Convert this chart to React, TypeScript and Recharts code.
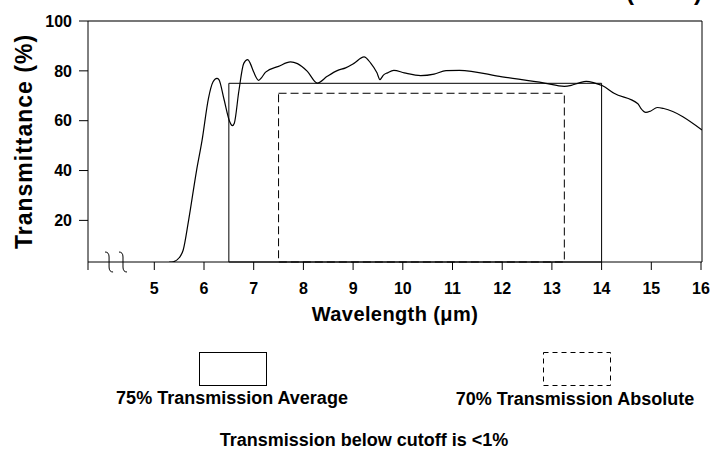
import React from 'react';
import { LineChart, Line, XAxis, YAxis, ReferenceArea, ReferenceLine } from 'recharts';

// transmittance curve
const WAVELENGTH = [
  5.3, 5.38, 5.5, 5.58, 5.69, 5.85, 5.96, 6.09, 6.18, 6.26, 6.3, 6.4, 6.52, 6.57, 6.61, 6.7,
  6.8, 6.88, 6.93, 7.0, 7.1, 7.16, 7.24, 7.5, 7.74, 7.88, 8.08, 8.28, 8.48, 8.68, 8.85, 9.01,
  9.22, 9.35, 9.48, 9.54, 9.61, 9.69, 9.82, 10.03, 10.36, 10.63, 10.87, 11.14, 12.0, 12.85,
  13.25, 13.39, 13.55, 13.69, 13.85, 14.02, 14.25, 14.73, 14.79, 14.89, 14.99, 15.12, 15.25,
  16.02,
];
const TRANSMITTANCE = [
  3.3, 3.4, 5.0, 8.0, 20, 40, 52, 69, 75.5, 77, 76.5, 68.8, 59.5, 58, 59, 71.7,
  83, 84.5, 83, 79.5, 76.2, 77.3, 79.5, 81.8, 83.6, 82.9, 79.8, 75.1, 77.8, 80.1, 81.2, 82.9,
  85.6, 83.2, 79.2, 76.5, 78.3, 79.2, 80.2, 79.2, 78.1, 78.7, 80.1, 80.2, 77.6, 75.1,
  73.8, 74.2, 75.2, 75.8, 75.2, 74.0, 71, 66.8, 64.9, 63.3, 63.9, 65.3, 64.9,
  56.3,
];

const X_MIN = 3.666;
const X_MAX = 16.02;
const Y_MIN = 3.3;
const Y_MAX = 100;
const X_TICKS = [X_MIN, 5, 6, 7, 8, 9, 10, 11, 12, 13, 14, 15, 16];
const Y_TICKS = [20, 40, 60, 80, 100];
const AXIS_BREAKS = [4.09, 4.37];

// spec boxes
const AVERAGE_RANGE = [6.5, 14];
const AVERAGE_LEVEL = 75;
const ABSOLUTE_RANGE = [7.5, 13.25];
const ABSOLUTE_LEVEL = 71;

const LEGEND_LABELS = ['75% Transmission Average', '70% Transmission Absolute'];
const NOTE = 'Transmission below cutoff is <1%';
const TITLE = '(LWIR)';

const FONT = "'Liberation Sans', Arial, Helvetica, sans-serif";

const data = WAVELENGTH.map((w, i) => ({ w, t: TRANSMITTANCE[i] }));

function BreakMark(props: any) {
  const x = props.x1;
  const yb = Math.max(props.y1, props.y2);
  const d = `M${x - 4},${yb - 10} Q${x},${yb - 10} ${x},${yb - 5} L${x},${yb + 5} Q${x},${yb + 10} ${x + 4},${yb + 10}`;
  return <path d={d} fill="none" stroke="#000" strokeWidth={1} />;
}

function LegendOverlay() {
  return (
    <svg
      width={712}
      height={449}
      style={{ position: 'absolute', left: 0, top: 0, pointerEvents: 'none', overflow: 'visible' }}
      fontFamily={FONT}
      fontWeight="bold"
    >
      <text x={702} y={0} textAnchor="end" fontSize={24}>{TITLE}</text>
      <rect x={199.5} y={352.5} width={67} height={33} fill="none" stroke="#000" />
      <rect x={543.5} y={352.5} width={67} height={33} fill="none" stroke="#000" strokeDasharray="5 4" />
      <text x={232} y={404} textAnchor="middle" fontSize={18}>{LEGEND_LABELS[0]}</text>
      <text x={575} y={405} textAnchor="middle" fontSize={18}>{LEGEND_LABELS[1]}</text>
      <text x={364} y={446} textAnchor="middle" fontSize={18}>{NOTE}</text>
    </svg>
  );
}

export default function App() {
  const tickStyle = { fill: '#000', fontSize: 16, fontWeight: 'bold', fontFamily: FONT };
  return (
    <div style={{ position: 'absolute', left: 0, top: 0, width: 712, height: 449, background: '#fff', fontFamily: FONT }}>
      <LineChart width={712} height={449} data={data} margin={{ top: 21, right: 10, left: 0, bottom: 127 }}>
        <XAxis
          dataKey="w"
          type="number"
          domain={[X_MIN, X_MAX]}
          ticks={X_TICKS}
          allowDataOverflow
          interval={0}
          height={60}
          stroke="#000"
          tickSize={8}
          tickMargin={13}
          tick={tickStyle}
          tickFormatter={(v: number) => (v === X_MIN ? '' : String(v))}
          label={{
            value: 'Wavelength (\u03bcm)',
            position: 'insideTop',
            offset: 45,
            style: { fill: '#000', fontSize: 20, fontWeight: 'bold', fontFamily: FONT, letterSpacing: 0.4 },
          }}
        />
        <YAxis
          type="number"
          domain={[Y_MIN, Y_MAX]}
          ticks={Y_TICKS}
          allowDataOverflow
          interval={0}
          width={88}
          stroke="#000"
          tickSize={9}
          tickMargin={7}
          tick={tickStyle}
          label={{
            value: 'Transmittance (%)',
            angle: -90,
            position: 'insideLeft',
            offset: 21,
            dx: 3,
            style: { fill: '#000', fontSize: 23, fontWeight: 'bold', fontFamily: FONT, textAnchor: 'middle', letterSpacing: 1 },
          }}
        />
        <ReferenceLine y={Y_MAX} stroke="#777" strokeWidth={2} />
        <ReferenceLine x={X_MAX} stroke="#000" />
        {AXIS_BREAKS.map((b) => (
          <ReferenceLine key={b} x={b} shape={BreakMark} ifOverflow="visible" />
        ))}
        <ReferenceArea
          x1={AVERAGE_RANGE[0]}
          x2={AVERAGE_RANGE[1]}
          y1={Y_MIN}
          y2={AVERAGE_LEVEL}
          fill="none"
          fillOpacity={0}
          stroke="#000"
          strokeOpacity={1}
        />
        <ReferenceArea
          x1={ABSOLUTE_RANGE[0]}
          x2={ABSOLUTE_RANGE[1]}
          y1={Y_MIN}
          y2={ABSOLUTE_LEVEL}
          fill="none"
          fillOpacity={0}
          stroke="#000"
          strokeOpacity={1}
          strokeDasharray="8 4"
        />
        <Line
          type="monotone"
          dataKey="t"
          stroke="#000"
          strokeWidth={1.2}
          dot={false}
          activeDot={false}
          isAnimationActive={false}
        />
      </LineChart>
      <LegendOverlay />
    </div>
  );
}
